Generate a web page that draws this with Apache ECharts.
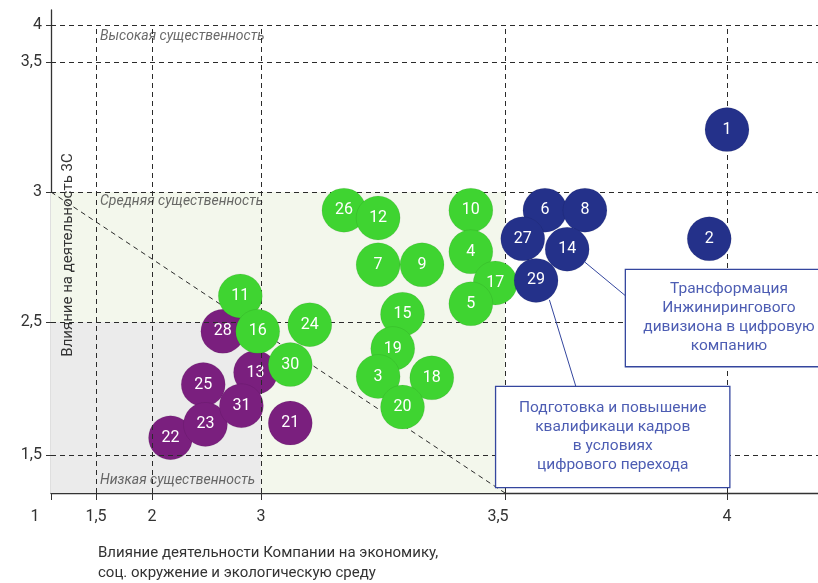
<!DOCTYPE html>
<html>
<head>
<meta charset="utf-8">
<script src="https://cdn.jsdelivr.net/npm/echarts@6/dist/echarts.min.js"></script>
<style>
  html, body { margin: 0; padding: 0; background: #fff; }
  #main { width: 818px; height: 583px; }
</style>
</head>
<body>
<div id="main"></div>
<script>
// tick values and labels (the axis scale is not linear in the picture)
const xTickVals = [1, 1.5, 2, 3, 3.5, 4];
const xTickLabels = ['1', '1,5', '2', '3', '3,5', '4'];
const yTickVals = [1.5, 2.5, 3, 3.5, 4];
const yTickLabels = ['1,5', '2,5', '3', '3,5', '4'];

// bubbles by group
const blueIds = [1, 2, 6, 8, 27, 14, 29];
const blueX = [4.00, 3.96, 3.59, 3.68, 3.54, 3.64, 3.57];
const blueY = [3.24, 2.82, 2.93, 2.93, 2.82, 2.78, 2.66];

const greenIds = [26, 12, 7, 9, 10, 4, 17, 5, 11, 16, 24, 15, 19, 3, 18, 20, 30];
const greenX = [3.17, 3.24, 3.24, 3.33, 3.43, 3.43, 3.48, 3.43, 2.81, 2.97, 3.10, 3.29, 3.27, 3.24, 3.35, 3.29, 3.06];
const greenY = [2.93, 2.90, 2.72, 2.72, 2.93, 2.77, 2.65, 2.57, 2.60, 2.43, 2.48, 2.53, 2.30, 2.09, 2.08, 1.86, 2.18];

const purpleIds = [22, 25, 23, 13, 31, 28, 21];
const purpleX = [2.17, 2.47, 2.49, 2.95, 2.82, 2.65, 3.06];
const purpleY = [1.63, 2.03, 1.73, 2.12, 1.87, 2.43, 1.74];

// zone captions
const zoneNames = ['Высокая существенность', 'Средняя существенность', 'Низкая существенность'];
const zoneX = [1.5, 1.5, 1.5];
const zoneY = [3.84, 2.965, 1.31];

// callouts (anchored at the left edge of each box)
const noteTexts = [
  'Трансформация\nИнжинирингового\nдивизиона в цифровую\nкомпанию',
  'Подготовка и повышение\nквалификаци кадров\nв условиях\nцифрового перехода'
];
const noteX = [3.7725, 3.482];
const noteY = [2.515, 1.635];
const leadFrom = [[3.68, 2.73], [3.60, 2.585]];
const leadTo = [[3.772, 2.60], [3.66, 2.011]];

const xName = 'Влияние деятельности Компании на экономику,\nсоц. окружение и экологическую среду';
const yName = 'Влияние на деятельность 3С';

// layout: where each tick sits on the drawn axis (px from axis origin)
const xTickPos = [0, 45, 101, 210, 454, 676];
const xLabelShift = [32, 0, 0, 0, 14, 0];
const yTickPos = [38, 171, 301, 431, 468];
const X_MAX = 767, Y_MAX = 483;
const noteBox = [{ w: 206, pad: [10, 0, 10, 0] }, { w: 233, pad: [12, 0, 12, 0] }];

function interp(v, vals, pos) {
  let i = 0;
  while (i < vals.length - 2 && v > vals[i + 1]) i++;
  return pos[i] + (v - vals[i]) * (pos[i + 1] - pos[i]) / (vals[i + 1] - vals[i]);
}
const toX = v => interp(v, xTickVals, xTickPos);
const toY = v => interp(v, yTickVals, yTickPos);
function tickIndex(v, pos) {
  for (let i = 0; i < pos.length; i++) if (Math.abs(pos[i] - v) < 0.5) return i;
  return -1;
}

const FONT = 'Roboto';
const dash = { color: '#2b2b2b', width: 1, type: [5, 4] };

function bubbles(ids, xs, ys, color, z) {
  return {
    type: 'scatter',
    z: z,
    symbolSize: 44,
    itemStyle: { color: color, opacity: 1, borderColor: 'rgba(0,0,0,0.12)', borderWidth: 0.6 },
    label: { show: true, position: 'inside', formatter: '{b}', color: '#fff', fontSize: 16, fontFamily: FONT },
    emphasis: { disabled: true },
    data: ids.map((id, i) => ({ name: String(id), value: [toX(xs[i]), toY(ys[i])] }))
  };
}

let myChart = echarts.init(document.getElementById('main'));

const gridLines = [];
xTickVals.slice(1).forEach(v => gridLines.push([{ coord: [toX(v), 0] }, { coord: [toX(v), toY(4)] }]));
yTickVals.forEach(v => gridLines.push([{ coord: [0, toY(v)] }, { coord: [X_MAX, toY(v)] }]));
// diagonal boundary
gridLines.push([{ coord: [toX(1), toY(3)] }, { coord: [toX(3.5), 0] }]);

const xRich = {};
xLabelShift.forEach((s, i) => {
  xRich['s' + i] = { fontSize: 16, color: '#333', fontFamily: FONT, padding: [0, s, 0, 0] };
});

var option = {
  animation: false,
  textStyle: { fontFamily: FONT },
  title: {
    text: xName,
    left: 98,
    top: 543,
    padding: 0,
    textStyle: { fontSize: 15, lineHeight: 20, fontWeight: 'normal', color: '#333', fontFamily: FONT }
  },
  graphic: [{
    type: 'text',
    x: 68,
    y: 255,
    z: 100,
    rotation: Math.PI / 2,
    silent: true,
    style: { text: yName, fontSize: 15, fill: '#333', fontFamily: FONT, align: 'center', verticalAlign: 'middle' }
  }],
  grid: { left: 51, right: 0, top: 10, bottom: 90, containLabel: false, outerBoundsMode: 'none' },
  xAxis: {
    type: 'value',
    min: 0,
    max: X_MAX,
    axisLine: { lineStyle: { color: '#333', width: 1.3 } },
    axisTick: { show: true, length: 7, customValues: xTickPos, lineStyle: { color: '#333' } },
    axisLabel: {
      customValues: xTickPos,
      margin: 16,
      fontSize: 16,
      color: '#333',
      formatter: v => {
        const i = tickIndex(v, xTickPos);
        return i < 0 ? '' : '{s' + i + '|' + xTickLabels[i] + '}';
      },
      rich: xRich
    },
    splitLine: { show: false }
  },
  yAxis: {
    type: 'value',
    min: 0,
    max: Y_MAX,
    axisLine: { show: true, lineStyle: { color: '#333', width: 1.3 } },
    axisTick: { show: true, length: 5, customValues: yTickPos, lineStyle: { color: '#333' } },
    axisLabel: {
      customValues: yTickPos,
      margin: 9,
      fontSize: 16,
      color: '#333',
      formatter: v => {
        const i = tickIndex(v, yTickPos);
        return i < 0 ? '' : yTickLabels[i];
      }
    },
    splitLine: { show: false }
  },
  series: [
    {
      type: 'scatter',
      z: 1,
      data: [],
      silent: true,
      markArea: {
        silent: true,
        data: [
          [{ coord: [toX(1), 0], itemStyle: { color: '#f3f7ec', opacity: 1 } }, { coord: [toX(3.5), toY(3)] }],
          [{ coord: [toX(1), 0], itemStyle: { color: '#ebebeb', opacity: 1 } }, { coord: [toX(3), toY(2.5)] }]
        ]
      },
      markLine: {
        silent: true,
        symbol: ['none', 'none'],
        label: { show: false },
        lineStyle: dash,
        data: gridLines
      }
    },
    {
      type: 'scatter',
      z: 2,
      symbolSize: 0,
      silent: true,
      label: {
        show: true, position: 'right', distance: 4, formatter: '{b}',
        fontSize: 14, fontStyle: 'italic', color: '#444'
      },
      data: zoneNames.map((n, i) => ({ name: n, value: [toX(zoneX[i]), toY(zoneY[i])] }))
    },
    {
      type: 'scatter',
      z: 3,
      data: [],
      silent: true,
      markLine: {
        silent: true,
        symbol: ['none', 'none'],
        label: { show: false },
        lineStyle: { color: '#34469e', width: 1, type: 'solid', opacity: 1 },
        data: leadFrom.map((p, i) => [
          { coord: [toX(p[0]), toY(p[1])] },
          { coord: [toX(leadTo[i][0]), toY(leadTo[i][1])] }
        ])
      }
    },
    bubbles(purpleIds, purpleX, purpleY, '#7a1f7e', 4),
    bubbles(greenIds, greenX, greenY, '#3fd431', 5),
    bubbles(blueIds, blueX, blueY, '#24318a', 6),
    {
      type: 'scatter',
      z: 7,
      symbolSize: 0,
      silent: true,
      itemStyle: { opacity: 1 },
      data: noteTexts.map((t, i) => ({
        name: t,
        value: [toX(noteX[i]), toY(noteY[i])],
        label: {
          padding: noteBox[i].pad,
          rich: { c: { width: noteBox[i].w, align: 'center', fontSize: 15.5, lineHeight: 19, color: '#4d5db3', fontFamily: FONT } }
        }
      })),
      label: {
        show: true,
        position: 'right',
        distance: 0,
        formatter: p => p.name.split('\n').map(l => '{c|' + l + '}').join('\n'),
        verticalAlign: 'middle',
        fontSize: 15.5,
        lineHeight: 19,
        opacity: 1,
        color: '#4d5db3',
        backgroundColor: '#fff',
        borderColor: '#34469e',
        borderWidth: 1.3
      }
    }
  ]
};
myChart.setOption(option);
</script>
</body>
</html>
